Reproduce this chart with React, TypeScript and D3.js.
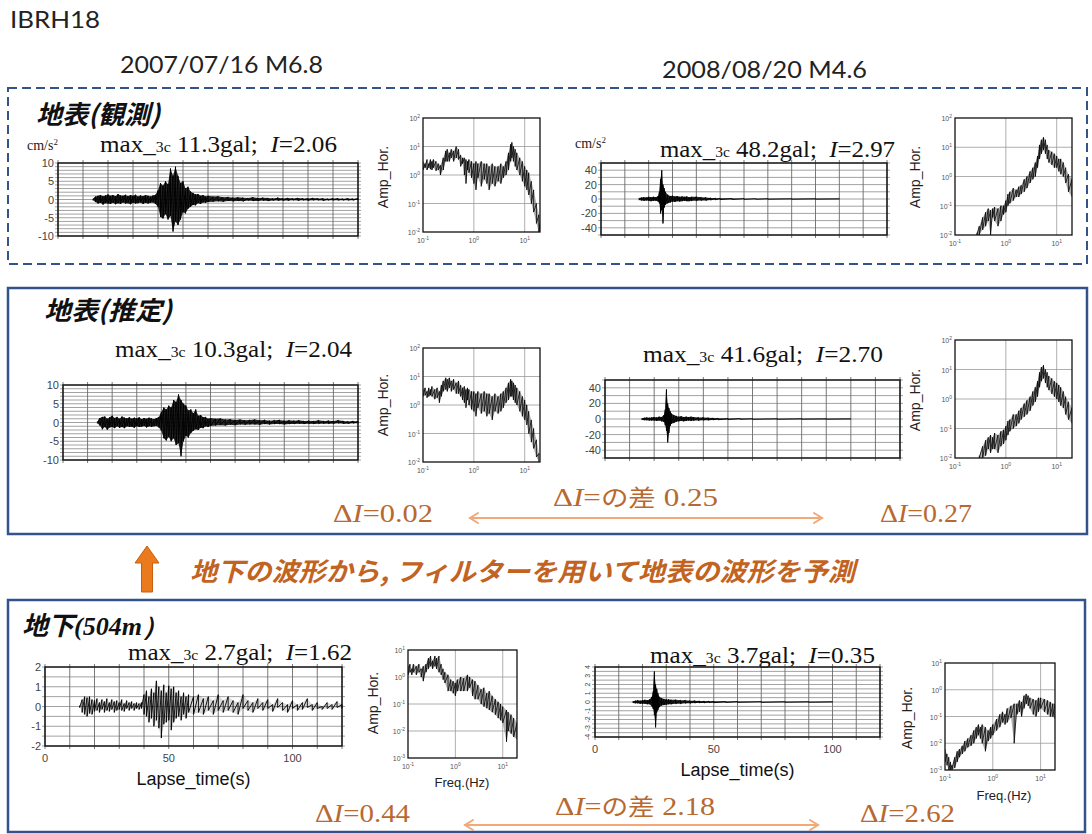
import React from 'react';
import * as d3 from 'd3';

type Row = [number, number, number];

// Station and events
const stationName = 'IBRH18';
const eventLabels = ['2007/07/16 M6.8', '2008/08/20 M4.6'];

// Peak acceleration (gal) and seismic intensity I for [2007 event, 2008 event]
const peakSurfObs = [11.3, 48.2];
const peakSurfEst = [10.3, 41.6];
const peakBore = [2.7, 3.7];
const intSurfObs = [2.06, 2.97];
const intSurfEst = [2.04, 2.7];
const intBore = [1.62, 0.35];

// Axis tick labels
const timeTicks = [0, 50, 100];
const ticksSurf07 = [10, 5, 0, -5, -10];
const ticksSurf08 = [40, 20, 0, -20, -40];
const ticksBore07 = [2, 1, 0, -1, -2];
const ticksBore08 = [4, 3, 2, 1, 0, -1, -2, -3, -4];

// Acceleration envelopes: [lapse time (s), positive peak, negative peak] (cm/s^2)
const surfObs07: Row[] = [
  [14, 0.2, -0.2], [15, 0.8, -0.7], [16, 1.0, -1.1], [17, 1.2, -0.9], [18, 0.9, -1.4], [19, 1.1, -1.0],
  [20, 1.4, -1.1], [21, 1.0, -1.2], [22, 1.2, -0.9], [23, 0.9, -1.3], [24, 1.5, -1.0], [25, 1.1, -1.2],
  [26, 1.0, -0.8], [27, 1.3, -1.1], [28, 0.9, -1.0], [29, 1.2, -1.3], [30, 1.0, -0.9], [31, 1.3, -1.1],
  [32, 0.8, -1.0], [33, 1.1, -0.8], [34, 0.9, -1.2], [35, 1.2, -0.9], [36, 1.0, -1.1], [37, 0.8, -0.9],
  [38, 1.1, -0.8], [39, 1.3, -1.2], [40, 2.5, -2.0], [41, 4.5, -4.8], [42, 3.8, -5.2], [43, 5.0, -4.0],
  [44, 4.2, -5.5], [45, 8.5, -4.5], [46, 6.5, -8.8], [47, 9.0, -6.0], [48, 6.5, -7.0], [49, 4.5, -5.5],
  [50, 5.0, -3.5], [51, 3.0, -3.8], [52, 3.5, -2.5], [53, 2.2, -2.0], [54, 1.8, -1.5], [55, 1.4, -1.6],
  [56, 1.5, -1.0], [57, 1.0, -1.2], [58, 1.2, -0.8], [59, 0.8, -0.9], [60, 1.0, -0.7], [62, 0.8, -0.6],
  [64, 0.9, -0.5], [66, 0.6, -0.6], [68, 0.7, -0.4], [70, 0.5, -0.5], [72, 0.6, -0.4], [74, 0.5, -0.5],
  [76, 0.4, -0.3], [78, 0.6, -0.4], [80, 0.4, -0.4], [82, 0.5, -0.3], [84, 0.4, -0.4], [86, 0.3, -0.3],
  [88, 0.5, -0.3], [90, 0.3, -0.3], [92, 0.4, -0.3], [94, 0.3, -0.2], [96, 0.4, -0.3], [98, 0.3, -0.2],
  [100, 0.3, -0.3], [102, 0.4, -0.2], [104, 0.3, -0.2], [106, 0.3, -0.3], [108, 0.2, -0.2], [110, 0.3, -0.2],
  [112, 0.3, -0.2], [114, 0.2, -0.2], [116, 0.3, -0.2], [118, 0.2, -0.2], [120, 0.3, -0.1],
];

const surfEst07: Row[] = [
  [14, 0.3, -0.2], [15, 1.2, -0.8], [16, 1.5, -1.8], [17, 1.6, -1.2], [18, 1.0, -1.9], [19, 1.4, -1.3],
  [20, 1.8, -1.2], [21, 1.2, -1.5], [22, 1.5, -1.0], [23, 1.0, -1.4], [24, 1.6, -1.2], [25, 1.3, -1.5],
  [26, 1.1, -1.0], [27, 1.4, -1.2], [28, 1.0, -1.1], [29, 1.3, -1.4], [30, 1.1, -1.0], [31, 1.4, -1.2],
  [32, 0.9, -1.1], [33, 1.2, -0.9], [34, 1.0, -1.3], [35, 1.3, -1.0], [36, 1.1, -1.2], [37, 0.9, -1.0],
  [38, 1.2, -0.9], [39, 1.5, -1.3], [40, 2.8, -2.2], [41, 4.0, -4.2], [42, 3.5, -4.8], [43, 4.5, -3.8],
  [44, 4.0, -5.0], [45, 6.0, -4.2], [46, 5.5, -6.0], [47, 7.5, -5.5], [48, 6.0, -9.0], [49, 5.0, -5.0],
  [50, 4.5, -3.5], [51, 3.2, -4.0], [52, 3.5, -2.8], [53, 2.5, -2.2], [54, 3.5, -1.8], [55, 1.8, -2.0],
  [56, 2.0, -1.4], [57, 1.4, -1.5], [58, 1.5, -1.0], [59, 1.0, -1.2], [60, 1.2, -0.9], [62, 1.0, -0.8],
  [64, 1.1, -0.7], [66, 0.8, -0.8], [68, 0.9, -0.6], [70, 0.7, -0.7], [72, 0.8, -0.5], [74, 0.6, -0.6],
  [76, 0.7, -0.5], [78, 0.8, -0.5], [80, 0.6, -0.6], [82, 0.7, -0.4], [84, 0.5, -0.5], [86, 0.6, -0.4],
  [88, 0.7, -0.4], [90, 0.5, -0.5], [92, 0.6, -0.4], [94, 0.5, -0.4], [96, 0.6, -0.3], [98, 0.4, -0.4],
  [100, 0.5, -0.3], [102, 0.4, -0.4], [104, 0.6, -0.3], [106, 0.4, -0.3], [108, 0.5, -0.3], [110, 0.4, -0.3],
  [112, 0.6, -0.2], [114, 0.4, -0.3], [116, 0.3, -0.3], [118, 0.4, -0.2], [120, 0.3, -0.2],
];

const surfObs08: Row[] = [
  [16, 1.5, -1.5], [17, 2.0, -2.0], [18, 2.5, -2.5], [19, 2.0, -2.0], [20, 3.0, -2.5], [21, 2.5, -3.0],
  [22, 3.0, -2.5], [23, 2.5, -2.5], [24, 4.0, -3.5], [24.5, 10, -6], [25, 28, -20], [25.5, 40, -15],
  [26, 20, -34], [26.5, 15, -12], [27, 10, -8], [28, 6, -6], [29, 4, -5], [30, 4.5, -3.5], [31, 3.5, -4],
  [32, 4, -3], [33, 3, -3.5], [34, 3.5, -3], [35, 3, -2.5], [36, 3.5, -3], [37, 2.5, -3], [38, 3, -2.5],
  [40, 3, -2.5], [42, 2.5, -2], [44, 2, -2], [46, 1.5, -1.5], [48, 1.2, -1.2], [50, 1, -0.8], [55, 0.7, -0.6],
  [60, 0.5, -0.5], [65, 0.4, -0.4], [70, 0.4, -0.3], [80, 0.3, -0.3], [90, 0.3, -0.2], [100, 0.2, -0.2],
];

const surfEst08: Row[] = [
  [15, 1, -1], [16, 1.5, -1.5], [17, 2, -1.5], [18, 1.5, -2], [19, 2, -2], [20, 2.5, -2], [21, 2, -2.5],
  [22, 3, -2], [23, 2.5, -3], [24, 5, -4], [24.5, 12, -8], [25, 38, -15], [25.5, 20, -30], [26, 14, -18],
  [26.5, 10, -9], [27, 7, -6], [28, 5, -5], [29, 4, -3.5], [30, 3, -3], [31, 3.5, -2.5], [32, 2.5, -3],
  [33, 3, -2.5], [34, 2.5, -2], [35, 3, -2.5], [36, 2.5, -2], [38, 2, -2], [40, 2, -1.5], [42, 1.5, -1.5],
  [44, 1.2, -1.2], [46, 1, -1], [50, 0.6, -0.6], [55, 0.5, -0.4], [60, 0.4, -0.4], [70, 0.3, -0.3],
  [80, 0.3, -0.2], [90, 0.2, -0.2], [100, 0.2, -0.2],
];

const bore07: Row[] = [
  [14, 0.05, -0.05], [15, 0.35, -0.3], [16, 0.5, -0.4], [17, 0.45, -0.5], [18, 0.5, -0.35], [19, 0.35, -0.4],
  [20, 0.3, -0.25], [21, 0.4, -0.2], [22, 0.2, -0.3], [23, 0.35, -0.15], [24, 0.25, -0.3], [25, 0.4, -0.2],
  [26, 0.2, -0.25], [27, 0.35, -0.15], [28, 0.25, -0.3], [29, 0.3, -0.2], [30, 0.2, -0.15], [31, 0.35, -0.2],
  [32, 0.15, -0.25], [33, 0.3, -0.1], [34, 0.2, -0.2], [35, 0.25, -0.1], [36, 0.15, -0.2], [37, 0.2, -0.1],
  [38, 0.15, -0.15], [39, 0.2, -0.1], [40, 0.6, -0.4], [41, 0.8, -0.5], [42, 0.5, -0.8], [43, 0.9, -0.6],
  [44, 0.7, -1.0], [45, 1.3, -0.7], [46, 1.0, -1.1], [47, 0.8, -1.6], [48, 1.1, -0.9], [49, 0.7, -0.8],
  [50, 1.05, -0.7], [51, 0.9, -1.2], [52, 1.0, -0.8], [53, 0.7, -0.6], [54, 0.8, -0.5], [55, 0.5, -0.7],
  [56, 0.7, -0.4], [57, 0.5, -0.6], [58, 0.6, -0.3], [60, 0.5, -0.4], [62, 0.6, -0.3], [64, 0.4, -0.4],
  [66, 0.5, -0.2], [68, 0.3, -0.4], [70, 0.6, -0.2], [72, 0.3, -0.3], [74, 0.5, -0.2], [76, 0.3, -0.3],
  [78, 0.2, -0.4], [80, 0.6, -0.1], [82, 0.3, -0.2], [84, 0.2, -0.3], [86, 0.4, -0.1], [88, 0.2, -0.2],
  [90, 0.35, -0.1], [92, 0.1, -0.25], [94, 0.4, -0.05], [96, 0.2, -0.2], [98, 0.1, -0.3], [100, 0.3, -0.1],
  [102, 0.1, -0.2], [104, 0.2, -0.15], [106, 0.4, -0.05], [108, 0.1, -0.2], [110, 0.2, -0.1], [112, 0.0, -0.15],
  [114, 0.2, -0.1], [116, 0.1, -0.15], [118, 0.25, -0.05], [120, 0.1, -0.1],
];

const bore08: Row[] = [
  [16, 0.1, -0.1], [17, 0.15, -0.15], [18, 0.2, -0.15], [19, 0.15, -0.2], [20, 0.2, -0.2], [21, 0.25, -0.2],
  [22, 0.2, -0.25], [23, 0.3, -0.25], [24, 0.6, -0.5], [24.5, 1.2, -0.8], [25, 3.5, -1.5], [25.5, 2, -2.9],
  [26, 1.5, -1.2], [26.5, 1, -0.9], [27, 0.6, -0.6], [28, 0.45, -0.4], [29, 0.35, -0.35], [30, 0.3, -0.3],
  [31, 0.3, -0.25], [32, 0.25, -0.25], [34, 0.25, -0.2], [36, 0.2, -0.2], [38, 0.2, -0.15], [40, 0.15, -0.15],
  [42, 0.15, -0.12], [44, 0.12, -0.1], [46, 0.1, -0.1], [48, 0.1, -0.08], [50, 0.08, -0.08], [55, 0.06, -0.05],
  [60, 0.05, -0.04], [70, 0.04, -0.04], [80, 0.03, -0.03], [90, 0.03, -0.03], [100, 0.02, -0.02],
];

// Horizontal Fourier spectra: [frequency (Hz), upper, lower]
const specSurfObs07: Row[] = [
  [0.1, 3, 1.5], [0.11, 2.5, 1.8], [0.12, 3.5, 1.5], [0.13, 2.5, 1.8], [0.14, 3.5, 1.6], [0.15, 3, 1.5],
  [0.16, 3.5, 1.8], [0.18, 3, 1.4], [0.2, 2.5, 1.5], [0.22, 2.2, 1.0], [0.25, 4, 1.5], [0.28, 7, 3],
  [0.3, 8, 3], [0.33, 6, 3], [0.36, 8, 4], [0.4, 7, 3], [0.45, 10, 4], [0.5, 8, 3.5], [0.55, 5, 2],
  [0.6, 4, 2.5], [0.65, 4, 1], [0.7, 3.5, 0.5], [0.75, 3, 1.5], [0.8, 3.5, 1.2], [0.9, 3, 0.8],
  [1.0, 2.5, 0.5], [1.1, 3, 0.3], [1.2, 2.5, 0.8], [1.4, 3, 0.4], [1.6, 2.5, 0.7], [1.8, 2.5, 0.5],
  [2.0, 2, 0.3], [2.3, 2.5, 0.5], [2.6, 2, 0.4], [3.0, 2, 0.6], [3.4, 2.5, 0.5], [3.8, 2, 0.8],
  [4.3, 3, 1.0], [4.8, 6, 1.5], [5.3, 12, 3], [5.6, 14, 4], [6.0, 10, 3], [6.5, 8, 2], [7.0, 6, 1.5],
  [8.0, 4, 1], [9.0, 3, 0.6], [10, 2, 0.4], [11, 1.5, 0.3], [12, 1.2, 0.2], [13.5, 0.6, 0.1],
  [15, 0.3, 0.05], [17, 0.1, 0.02], [19, 0.04, 0.01], [20, 0.02, 0.01],
];

const specSurfEst07: Row[] = [
  [0.1, 3.5, 2], [0.11, 4, 2.2], [0.12, 3, 1.8], [0.13, 4, 2], [0.14, 3.5, 2.2], [0.15, 4.5, 2],
  [0.17, 3.5, 1.6], [0.19, 4, 1.8], [0.21, 3, 1.2], [0.23, 5, 2], [0.25, 7, 3], [0.28, 9, 3.5],
  [0.3, 8, 3], [0.33, 9, 4], [0.36, 7, 3], [0.4, 8, 3.5], [0.45, 6, 2.5], [0.5, 7, 2.5], [0.55, 5, 2],
  [0.6, 4, 1.5], [0.65, 4.5, 1.2], [0.7, 3.5, 0.8], [0.75, 4, 1.5], [0.8, 3.5, 1], [0.9, 3, 0.7],
  [1.0, 3, 0.6], [1.1, 2.5, 0.4], [1.2, 3, 0.8], [1.4, 2.5, 0.5], [1.6, 3, 0.6], [1.8, 2.5, 0.4],
  [2.0, 2.5, 0.5], [2.3, 2, 0.3], [2.6, 2.5, 0.6], [3.0, 2, 0.5], [3.4, 2.5, 0.6], [3.8, 3, 0.8],
  [4.3, 4, 1.2], [4.8, 6, 1.5], [5.3, 8, 2], [5.6, 7, 2], [6.0, 6, 1.5], [6.5, 5, 1.2], [7.0, 4, 1],
  [8.0, 3, 0.6], [9.0, 2, 0.4], [10, 1.5, 0.3], [11, 1, 0.2], [12, 0.6, 0.1], [13.5, 0.3, 0.05],
  [15, 0.15, 0.03], [17, 0.06, 0.015], [19, 0.02, 0.01],
];

const specSurfObs08: Row[] = [
  [0.27, 0.012, 0.01], [0.3, 0.02, 0.01], [0.35, 0.04, 0.015], [0.4, 0.06, 0.02], [0.45, 0.08, 0.03],
  [0.5, 0.07, 0.01], [0.55, 0.08, 0.04], [0.6, 0.09, 0.03], [0.7, 0.08, 0.02], [0.8, 0.1, 0.03],
  [0.9, 0.1, 0.05], [1.0, 0.15, 0.06], [1.1, 0.25, 0.1], [1.2, 0.3, 0.12], [1.4, 0.4, 0.15],
  [1.6, 0.35, 0.2], [1.8, 0.45, 0.2], [2.0, 0.5, 0.25], [2.3, 0.8, 0.3], [2.6, 1.0, 0.4], [3.0, 1.5, 0.6],
  [3.4, 2.0, 0.8], [3.8, 3, 1.0], [4.2, 5, 2], [4.6, 12, 4], [5.0, 18, 6], [5.5, 22, 8], [6.0, 18, 6],
  [6.5, 12, 4], [7.0, 8, 3], [8.0, 7, 2.5], [9.0, 6, 2], [10, 5, 2], [11, 4, 1.5], [12, 4, 1.2],
  [13.5, 3, 1], [15, 2, 0.6], [17, 1.2, 0.3], [20, 0.8, 0.2],
];

const specSurfEst08: Row[] = [
  [0.3, 0.012, 0.01], [0.35, 0.025, 0.01], [0.4, 0.04, 0.012], [0.45, 0.05, 0.02], [0.5, 0.06, 0.015],
  [0.55, 0.05, 0.02], [0.6, 0.07, 0.02], [0.7, 0.06, 0.015], [0.8, 0.08, 0.025], [0.9, 0.09, 0.03],
  [1.0, 0.12, 0.04], [1.1, 0.18, 0.06], [1.2, 0.2, 0.08], [1.4, 0.3, 0.1], [1.6, 0.3, 0.12],
  [1.8, 0.4, 0.15], [2.0, 0.5, 0.2], [2.3, 0.7, 0.25], [2.6, 0.9, 0.3], [3.0, 1.2, 0.4], [3.4, 1.8, 0.6],
  [3.8, 2.5, 0.8], [4.2, 4, 1.2], [4.6, 8, 2.5], [5.0, 12, 4], [5.5, 14, 5], [6.0, 10, 3.5],
  [6.5, 8, 2.5], [7.0, 6, 2], [8.0, 5, 1.5], [9.0, 4, 1.2], [10, 3.5, 1], [11, 3, 0.8], [12, 2.5, 0.6],
  [13.5, 1.8, 0.5], [15, 1.2, 0.3], [17, 0.8, 0.2], [20, 0.5, 0.15],
];

const specBore07: Row[] = [
  [0.1, 2.5, 1.2], [0.11, 3, 1.5], [0.12, 2, 1.2], [0.13, 3, 1.5], [0.15, 2.5, 1.2], [0.17, 3, 1.5],
  [0.19, 2, 1], [0.21, 2.5, 0.7], [0.24, 3, 1.5], [0.27, 5, 2], [0.3, 6, 2.5], [0.33, 4, 2],
  [0.37, 6, 2.5], [0.4, 5, 2], [0.45, 6, 1.5], [0.5, 3, 1.2], [0.55, 2, 0.8], [0.6, 1.5, 0.6],
  [0.7, 1.2, 0.3], [0.8, 0.8, 0.3], [0.9, 0.7, 0.25], [1.0, 0.6, 0.2], [1.1, 0.8, 0.3], [1.3, 1.0, 0.3],
  [1.5, 0.9, 0.3], [1.8, 1.2, 0.3], [2.0, 1.0, 0.4], [2.3, 0.8, 0.2], [2.6, 0.7, 0.15], [3.0, 0.5, 0.15],
  [3.5, 0.35, 0.1], [4.0, 0.4, 0.08], [4.6, 0.25, 0.07], [5.2, 0.3, 0.06], [6.0, 0.2, 0.05],
  [7.0, 0.15, 0.04], [8.0, 0.12, 0.03], [9.0, 0.1, 0.025], [10, 0.08, 0.02], [12, 0.06, 0.004],
  [13, 0.05, 0.01], [15, 0.04, 0.008], [17, 0.03, 0.006], [20, 0.02, 0.005],
];

const specBore08: Row[] = [
  [0.1, 0.006, 0.002], [0.11, 0.004, 0.0015], [0.12, 0.003, 0.001], [0.13, 0.002, 0.001],
  [0.14, 0.0015, 0.001], [0.16, 0.003, 0.0012], [0.18, 0.005, 0.002], [0.2, 0.006, 0.003],
  [0.23, 0.008, 0.004], [0.26, 0.012, 0.005], [0.3, 0.015, 0.007], [0.35, 0.02, 0.008], [0.4, 0.03, 0.01],
  [0.45, 0.04, 0.015], [0.5, 0.05, 0.02], [0.55, 0.04, 0.015], [0.6, 0.05, 0.01], [0.7, 0.04, 0.005],
  [0.8, 0.03, 0.012], [0.9, 0.04, 0.015], [1.0, 0.05, 0.02], [1.2, 0.08, 0.03], [1.4, 0.12, 0.04],
  [1.6, 0.15, 0.06], [1.8, 0.12, 0.05], [2.0, 0.2, 0.06], [2.4, 0.25, 0.09], [2.8, 0.3, 0.01],
  [3.2, 0.3, 0.12], [3.6, 0.4, 0.15], [4.0, 0.35, 0.1], [4.5, 0.6, 0.2], [5.0, 0.7, 0.3], [5.5, 0.6, 0.25],
  [6.0, 0.5, 0.2], [7.0, 0.45, 0.12], [8.0, 0.4, 0.1], [9, 0.5, 0.15], [10, 0.5, 0.2], [12, 0.45, 0.15],
  [14, 0.4, 0.12], [16, 0.35, 0.1], [18, 0.3, 0.1], [20, 0.3, 0.08],
];

const SANS = '"Liberation Sans", Arial, sans-serif';
const SERIF = '"Liberation Serif", "Times New Roman", serif';
const CJK = '"Noto Sans CJK JP", sans-serif';
const HEAD = 'Lato, "Open Sans", sans-serif';
const ORANGE_TEXT = '#c2631f';
const DELTA_TEXT = '#b8692f';
const ARROW = '#f2a878';
const FRAME = '#33538a';

type Box = [number, number, number, number];

function zigzag(rows: Row[], xs: (v: number) => number, ys: (v: number) => number) {
  const pts: [number, number][] = rows.flatMap(([x, hi, lo]) => [
    [xs(x), ys(hi)],
    [xs(x), ys(lo)],
  ]);
  return d3.line()(pts) || '';
}

function WavePlot(props: {
  box: Box;
  yDom: [number, number];
  step: number;
  ticks: number[];
  data: Row[];
  fill: number;
  tickRotate?: boolean;
  timeAxis?: boolean;
}) {
  const { box, yDom, step, ticks, data, fill, tickRotate, timeAxis } = props;
  const [x0, y0, x1, y1] = box;
  const xs = d3.scaleLinear().domain([0, 120]).range([x0, x1]);
  const ys = d3.scaleLinear().domain(yDom).range([y1, y0]);
  const hLines = d3.range(yDom[0], yDom[1] + step / 2, step);
  const vLines = d3.range(0, 121, 10);
  const band =
    d3
      .area<Row>()
      .x((d) => xs(d[0]))
      .y0((d) => ys(d[2]))
      .y1((d) => ys(d[1]))(data) || '';
  return (
    <g>
      {hLines.map((v, i) => (
        <line key={'h' + i} x1={x0 - 3} x2={x1 + 3} y1={ys(v)} y2={ys(v)} stroke="#8a8a8a" strokeWidth={0.8} />
      ))}
      {vLines.map((t) => (
        <line key={'v' + t} x1={xs(t)} x2={xs(t)} y1={y0 - 3} y2={y1 + 3} stroke="#6a6a6a" strokeWidth={0.9} />
      ))}
      <rect x={x0} y={y0} width={x1 - x0} height={y1 - y0} fill="none" stroke="#111" strokeWidth={1.4} />
      <path d={band} fill="#000" fillOpacity={fill} />
      <path d={zigzag(data, xs, ys)} fill="none" stroke="#000" strokeWidth={0.9} strokeLinejoin="round" />
      {ticks.map((v) =>
        tickRotate ? (
          <text
            key={'t' + v}
            transform={`translate(${x0 - 8},${ys(v)}) rotate(-90)`}
            fontFamily={SANS}
            fontSize={7}
            fill="#444"
            textAnchor="middle"
            dominantBaseline="central"
          >
            {v}
          </text>
        ) : (
          <text key={'t' + v} x={x0 - 4} y={ys(v) + 4} fontFamily={SANS} fontSize={11} fill="#444" textAnchor="end">
            {v}
          </text>
        )
      )}
      {timeAxis && (
        <g>
          {timeTicks.map((t) => (
            <text key={'x' + t} x={xs(t)} y={y1 + 16} fontFamily={SANS} fontSize={11} fill="#444" textAnchor="middle">
              {t}
            </text>
          ))}
          <text x={(x0 + x1) / 2} y={y1 + 39} fontFamily={SANS} fontSize={18} fill="#111" textAnchor="middle">
            Lapse_time(s)
          </text>
        </g>
      )}
    </g>
  );
}

function Pow10({ x, y, e, anchor }: { x: number; y: number; e: number; anchor: string }) {
  return (
    <text x={x} y={y} fontFamily={SANS} fontSize={7} fill="#555" textAnchor={anchor}>
      10
      <tspan dy={-3} fontSize={5}>
        {e}
      </tspan>
    </text>
  );
}

function SpecPlot(props: {
  id: string;
  box: Box;
  yExp: [number, number];
  data: Row[];
  label: [number, number];
  freqLabel?: [number, number];
}) {
  const { id, box, yExp, data, label, freqLabel } = props;
  const [x0, y0, x1, y1] = box;
  const xs = d3.scaleLog().domain([0.1, 20]).range([x0, x1]);
  const ys = d3.scaleLog().domain([10 ** yExp[0], 10 ** yExp[1]]).range([y1, y0]);
  const yDecades = d3.range(yExp[0], yExp[1] + 1);
  const xDecades = [-1, 0, 1];
  const band =
    d3
      .area<Row>()
      .x((d) => xs(d[0]))
      .y0((d) => ys(d[2]))
      .y1((d) => ys(d[1]))(data) || '';
  return (
    <g>
      <defs>
        <clipPath id={id}>
          <rect x={x0} y={y0} width={x1 - x0} height={y1 - y0} />
        </clipPath>
      </defs>
      {yDecades.slice(1, -1).map((e) => (
        <line key={'gy' + e} x1={x0} x2={x1} y1={ys(10 ** e)} y2={ys(10 ** e)} stroke="#9a9a9a" strokeWidth={0.8} />
      ))}
      {xDecades.slice(1).map((e) => (
        <line key={'gx' + e} x1={xs(10 ** e)} x2={xs(10 ** e)} y1={y0} y2={y1} stroke="#9a9a9a" strokeWidth={0.8} />
      ))}
      <g clipPath={`url(#${id})`}>
        <path d={band} fill="#222" fillOpacity={0.35} />
        <path d={zigzag(data, xs, ys)} fill="none" stroke="#000" strokeWidth={0.8} />
      </g>
      <rect x={x0} y={y0} width={x1 - x0} height={y1 - y0} fill="none" stroke="#111" strokeWidth={1.3} />
      {yDecades.map((e) => (
        <Pow10 key={'ly' + e} x={x0 - 3} y={ys(10 ** e) + 3} e={e} anchor="end" />
      ))}
      {xDecades.map((e) => (
        <Pow10 key={'lx' + e} x={xs(10 ** e)} y={y1 + 11} e={e} anchor="middle" />
      ))}
      <text
        transform={`translate(${label[0]},${label[1]}) rotate(-90)`}
        fontFamily={SANS}
        fontSize={14}
        fill="#222"
        textAnchor="middle"
      >
        Amp_Hor.
      </text>
      {freqLabel && (
        <text x={freqLabel[0]} y={freqLabel[1]} fontFamily={SANS} fontSize={13} fill="#222" textAnchor="middle">
          Freq.(Hz)
        </text>
      )}
    </g>
  );
}

function PeakLabel({ x, y, gal, inten, width }: { x: number; y: number; gal: number; inten: number; width: number }) {
  return (
    <text
      x={x}
      y={y}
      fontFamily={SERIF}
      fontSize={24}
      fill="#111"
      textLength={width}
      lengthAdjust="spacingAndGlyphs"
      style={{ whiteSpace: 'pre' }}
    >
      max_
      <tspan fontSize={15}>3c</tspan>
      <tspan>{` ${gal}gal;  `}</tspan>
      <tspan fontStyle="italic">I</tspan>
      <tspan>{`=${inten.toFixed(2)}`}</tspan>
    </text>
  );
}

function DeltaLabel({ x, y, v, width }: { x: number; y: number; v: number; width: number }) {
  return (
    <text
      x={x}
      y={y}
      fontFamily={SERIF}
      fontSize={26}
      fill={DELTA_TEXT}
      textLength={width}
      lengthAdjust="spacingAndGlyphs"
    >
      Δ<tspan fontStyle="italic">I</tspan>={v.toFixed(2)}
    </text>
  );
}

function DiffLabel({ x, y, v, width }: { x: number; y: number; v: number; width: number }) {
  return (
    <text
      x={x}
      y={y}
      fontSize={26}
      fill={DELTA_TEXT}
      textLength={width}
      lengthAdjust="spacingAndGlyphs"
      style={{ whiteSpace: 'pre' }}
    >
      <tspan fontFamily={SERIF}>Δ</tspan>
      <tspan fontFamily={SERIF} fontStyle="italic">I</tspan>
      <tspan fontFamily={SERIF}>=</tspan>
      <tspan fontFamily={CJK} fontSize={23}>の差</tspan>
      <tspan fontFamily={SERIF}>{` ${v.toFixed(2)}`}</tspan>
    </text>
  );
}

function DoubleArrow({ xa, xb, y }: { xa: number; xb: number; y: number }) {
  return (
    <g stroke={ARROW} strokeWidth={2} fill="none" strokeLinecap="round">
      <line x1={xa} x2={xb} y1={y} y2={y} />
      <polyline points={`${xa + 8},${y - 5} ${xa},${y} ${xa + 8},${y + 5}`} />
      <polyline points={`${xb - 8},${y - 5} ${xb},${y} ${xb - 8},${y + 5}`} />
    </g>
  );
}

export default function App() {
  const dSurf = intSurfObs.map((v, i) => Math.abs(v - intSurfEst[i]));
  const dBore = intSurfObs.map((v, i) => v - intBore[i]);
  return (
    <svg
      width={1092}
      height={834}
      viewBox="0 0 1092 834"
      style={{ position: 'absolute', left: 0, top: 0, background: '#fff' }}
    >
      <rect x={0} y={0} width={1092} height={834} fill="#fff" />
      <text x={10} y={28} fontFamily={HEAD} fontSize={24} fill="#222" textLength={90} lengthAdjust="spacingAndGlyphs">
        {stationName}
      </text>
      <text x={120} y={73} fontFamily={HEAD} fontSize={24} fill="#222" textLength={203} lengthAdjust="spacingAndGlyphs">
        {eventLabels[0]}
      </text>
      <text x={662} y={78} fontFamily={HEAD} fontSize={24} fill="#222" textLength={205} lengthAdjust="spacingAndGlyphs">
        {eventLabels[1]}
      </text>

      {/* panel frames */}
      <rect x={8} y={88} width={1079} height={176} fill="none" stroke={FRAME} strokeWidth={2} strokeDasharray="9 5" />
      <rect x={8} y={288} width={1079} height={246} fill="none" stroke={FRAME} strokeWidth={2.5} />
      <rect x={8} y={600} width={1077} height={232} fill="none" stroke={FRAME} strokeWidth={2.5} />

      {/* surface, observed */}
      <text x={36} y={124} fontFamily={CJK} fontSize={26} fontWeight="bold" fontStyle="italic" fill="#111"
        textLength={124} lengthAdjust="spacingAndGlyphs">
        地表(観測)
      </text>
      <text x={27} y={150} fontFamily={SERIF} fontSize={14} fill="#222">
        cm/s<tspan dy={-5} fontSize={9}>2</tspan>
      </text>
      <PeakLabel x={100} y={152} gal={peakSurfObs[0]} inten={intSurfObs[0]} width={237} />
      <WavePlot box={[58, 163, 358, 236]} yDom={[-10, 10]} step={1} ticks={ticksSurf07} data={surfObs07} fill={0.85} />
      <SpecPlot id="s1" box={[423, 118, 540, 232]} yExp={[-2, 2]} data={specSurfObs07} label={[388, 177]} />
      <text x={575} y={148} fontFamily={SERIF} fontSize={14} fill="#222">
        cm/s<tspan dy={-5} fontSize={9}>2</tspan>
      </text>
      <PeakLabel x={660} y={157} gal={peakSurfObs[1]} inten={intSurfObs[1]} width={235} />
      <WavePlot box={[601, 163, 887, 235]} yDom={[-50, 50]} step={10} ticks={ticksSurf08} data={surfObs08} fill={0.85} />
      <SpecPlot id="s3" box={[955, 118, 1072, 235]} yExp={[-2, 2]} data={specSurfObs08} label={[920, 177]} />

      {/* surface, estimated */}
      <text x={44} y={320} fontFamily={CJK} fontSize={26} fontWeight="bold" fontStyle="italic" fill="#111"
        textLength={128} lengthAdjust="spacingAndGlyphs">
        地表(推定)
      </text>
      <PeakLabel x={115} y={357} gal={peakSurfEst[0]} inten={intSurfEst[0]} width={237} />
      <WavePlot box={[63, 385, 358, 460]} yDom={[-10, 10]} step={1} ticks={ticksSurf07} data={surfEst07} fill={0.85} />
      <SpecPlot id="s2" box={[423, 348, 540, 462]} yExp={[-2, 2]} data={specSurfEst07} label={[388, 405]} />
      <PeakLabel x={643} y={362} gal={peakSurfEst[1]} inten={intSurfEst[1]} width={240} />
      <WavePlot box={[605, 380, 900, 458]} yDom={[-50, 50]} step={10} ticks={ticksSurf08} data={surfEst08} fill={0.85} />
      <SpecPlot id="s4" box={[955, 340, 1072, 458]} yExp={[-2, 2]} data={specSurfEst08} label={[920, 400]} />

      <DeltaLabel x={333} y={522} v={dSurf[0]} width={100} />
      <DiffLabel x={553} y={506} v={dSurf[1] - dSurf[0]} width={165} />
      <DoubleArrow xa={470} xb={822} y={518} />
      <DeltaLabel x={880} y={522} v={dSurf[1]} width={92} />

      {/* prediction arrow and caption */}
      <path
        d="M147,546 L159,563 L152.5,563 L152.5,592 L141.5,592 L141.5,563 L135,563 Z"
        fill="#ea7a1c"
        stroke="#c65f12"
        strokeWidth={1}
      />
      <text
        x={190}
        y={581}
        fontFamily={CJK}
        fontSize={26}
        fontWeight="bold"
        fontStyle="italic"
        fill={ORANGE_TEXT}
        textLength={665}
        lengthAdjust="spacingAndGlyphs"
      >
        地下の波形から, フィルターを用いて地表の波形を予測
      </text>

      {/* borehole */}
      <text x={22} y={635} fontSize={26} fontWeight="bold" fontStyle="italic" fill="#111"
        textLength={146} lengthAdjust="spacingAndGlyphs">
        <tspan fontFamily={CJK}>地下</tspan>
        <tspan fontFamily={SERIF}>(504m）</tspan>
      </text>
      <PeakLabel x={128} y={660} gal={peakBore[0]} inten={intBore[0]} width={224} />
      <WavePlot box={[45, 667, 342, 746]} yDom={[-2, 2]} step={0.5} ticks={ticksBore07} data={bore07} fill={0.15} timeAxis />
      <SpecPlot
        id="s5"
        box={[408, 650, 517, 758]}
        yExp={[-3, 1]}
        data={specBore07}
        label={[378, 703]}
        freqLabel={[462, 787]}
      />
      <PeakLabel x={650} y={663} gal={peakBore[1]} inten={intBore[1]} width={225} />
      <WavePlot
        box={[595, 667, 880, 737]}
        yDom={[-4, 4]}
        step={0.5}
        ticks={ticksBore08}
        data={bore08}
        fill={0.85}
        tickRotate
        timeAxis
      />
      <SpecPlot
        id="s6"
        box={[945, 663, 1055, 770]}
        yExp={[-3, 1]}
        data={specBore08}
        label={[912, 718]}
        freqLabel={[1004, 800]}
      />

      <DeltaLabel x={315} y={822} v={dBore[0]} width={95} />
      <DiffLabel x={555} y={815} v={dBore[1] - dBore[0]} width={160} />
      <DoubleArrow xa={465} xb={818} y={825} />
      <DeltaLabel x={860} y={822} v={dBore[1]} width={95} />
    </svg>
  );
}
